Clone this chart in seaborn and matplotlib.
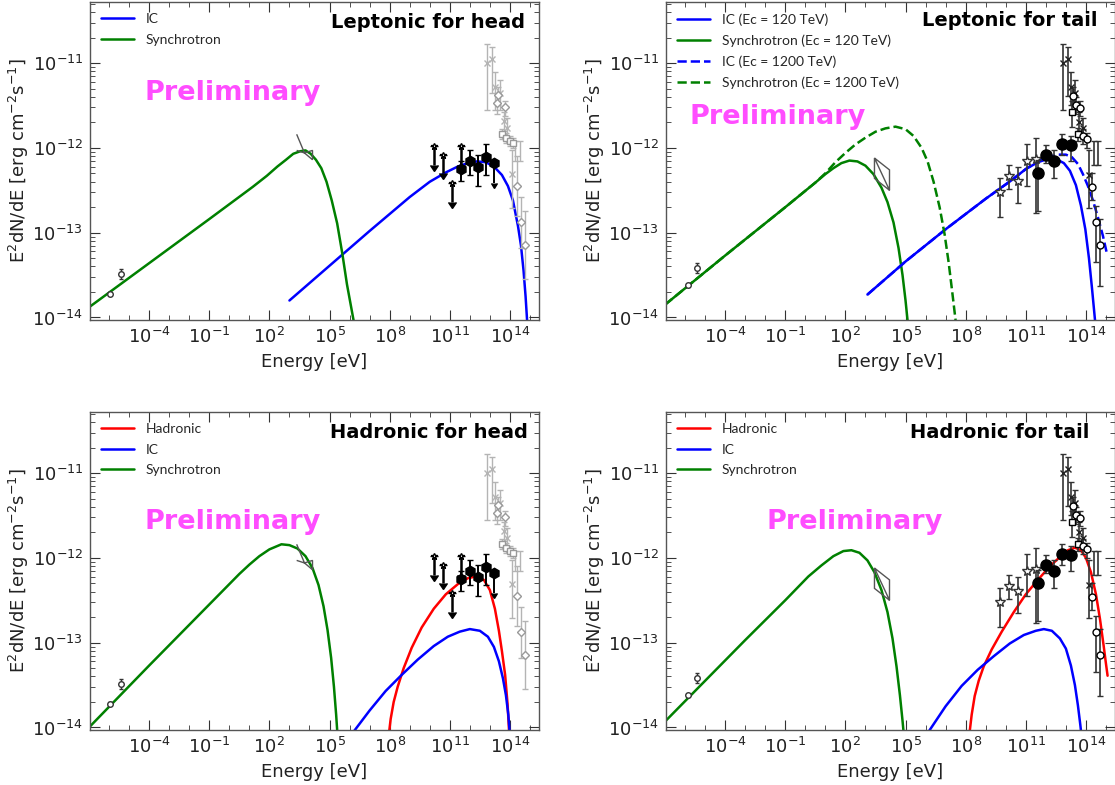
import numpy as np
import matplotlib
matplotlib.use('Agg')
import matplotlib.pyplot as plt
import matplotlib.ticker as mticker
from matplotlib.patches import Polygon
import seaborn as sns

sns.set_theme(context='notebook', style='ticks')
plt.rcParams['font.family'] = ['DejaVu Sans']
plt.rcParams['mathtext.fontset'] = 'dejavusans'

BLUE, GREEN, RED = '#0000ff', '#008000', '#ff0000'
PINK = '#ff4dff'
LIGHT = '#b4b4b4'
DARK = '#222222'

XLIM = (10**-6.95, 10**15.45)
YLIM = (10**-14.03, 10**-10.28)
XTICK_EXP = [-4, -1, 2, 5, 8, 11, 14]
YTICK_EXP = [-14, -13, -12, -11]

# ── model curves  (log10 E[eV], log10 E2dN/dE)
TL_SYN_X = [-7.0, -4.0, -1.0, 1.17, 1.87, 2.40, 2.83, 3.19, 3.54, 3.80, 4.06, 4.32, 4.59, 4.85, 5.11, 5.38, 5.64, 5.87, 6.08, 6.25]
TL_SYN_Y = [-13.88, -13.36, -12.84, -12.46, -12.33, -12.22, -12.14, -12.07, -12.04, -12.03, -12.07, -12.14, -12.24, -12.40, -12.62, -12.89, -13.25, -13.61, -13.88, -14.10]
TL_IC_X = [3.0, 5.0, 7.0, 9.0, 10.0, 10.8, 11.4, 11.9, 12.35, 12.8, 13.2, 13.6, 13.9, 14.15, 14.4, 14.55, 14.68, 14.78, 14.86]
TL_IC_Y = [-13.80, -13.39, -12.98, -12.58, -12.40, -12.29, -12.22, -12.18, -12.16, -12.17, -12.22, -12.32, -12.45, -12.62, -12.92, -13.15, -13.45, -13.75, -14.05]

TR_SYN_X = [-7.0, -4.0, -1.0, 0.5, 1.0, 1.4, 1.8, 2.2, 2.6, 3.0, 3.4, 3.8, 4.1, 4.4, 4.65, 4.85, 5.0, 5.12]
TR_SYN_Y = [-13.85, -13.27, -12.70, -12.41, -12.31, -12.24, -12.18, -12.15, -12.16, -12.21, -12.31, -12.47, -12.64, -12.88, -13.18, -13.50, -13.80, -14.08]
TR_SYN2_X = [-7.0, -4.0, -1.0, 0.5, 1.0, 1.5, 2.0, 2.5, 3.0, 3.5, 4.0, 4.5, 5.0, 5.4, 5.8, 6.1, 6.4, 6.7, 6.95, 7.15, 7.32, 7.47, 7.53]
TR_SYN2_Y = [-13.85, -13.27, -12.70, -12.41, -12.30, -12.17, -12.06, -11.96, -11.88, -11.81, -11.77, -11.75, -11.78, -11.86, -12.00, -12.16, -12.40, -12.70, -13.02, -13.35, -13.68, -13.98, -14.10]
TR_IC_X = [3.1, 5.0, 7.0, 9.0, 10.3, 11.0, 11.6, 12.1, 12.5, 12.9, 13.2, 13.5, 13.75, 13.97, 14.15, 14.3, 14.42, 14.48]
TR_IC_Y = [-13.73, -13.34, -12.96, -12.60, -12.38, -12.25, -12.17, -12.13, -12.13, -12.18, -12.27, -12.44, -12.68, -12.96, -13.30, -13.65, -13.95, -14.10]
TR_IC2_X = [3.1, 5.0, 7.0, 9.0, 10.3, 11.0, 11.6, 12.1, 12.6, 13.0, 13.3, 13.6, 13.85, 14.1, 14.35, 14.6, 14.85, 15.04]
TR_IC2_Y = [-13.73, -13.34, -12.96, -12.60, -12.38, -12.25, -12.16, -12.11, -12.08, -12.08, -12.11, -12.19, -12.31, -12.45, -12.62, -12.82, -13.04, -13.24]

BL_SYN_X = [-7.0, -4.0, -1.0, 0.5, 1.0, 1.5, 2.0, 2.6, 3.0, 3.4, 3.8, 4.15, 4.45, 4.7, 4.9, 5.08, 5.22, 5.33, 5.4]
BL_SYN_Y = [-14.00, -13.27, -12.55, -12.19, -12.08, -11.98, -11.90, -11.84, -11.85, -11.89, -11.98, -12.12, -12.32, -12.57, -12.85, -13.18, -13.52, -13.85, -14.10]
BL_IC_X = [6.2, 7.0, 7.8, 8.6, 9.4, 10.2, 10.9, 11.5, 12.0, 12.5, 12.9, 13.2, 13.45, 13.65, 13.8, 13.92, 14.0]
BL_IC_Y = [-14.05, -13.80, -13.57, -13.38, -13.20, -13.04, -12.93, -12.87, -12.84, -12.86, -12.93, -13.05, -13.22, -13.42, -13.62, -13.85, -14.10]
BL_HAD_X = [7.95, 8.05, 8.2, 8.4, 8.7, 9.1, 9.6, 10.2, 10.8, 11.4, 11.9, 12.3, 12.7, 13.0, 13.25, 13.45, 13.6, 13.76, 13.88, 13.97]
BL_HAD_Y = [-14.10, -13.90, -13.70, -13.52, -13.30, -13.06, -12.82, -12.60, -12.43, -12.31, -12.24, -12.22, -12.26, -12.38, -12.60, -12.86, -13.10, -13.38, -13.72, -14.10]

BR_SYN_X = [-7.0, -5.0, -3.0, -1.0, 0.15, 0.8, 1.4, 1.9, 2.3, 2.7, 3.1, 3.45, 3.8, 4.1, 4.35, 4.55, 4.72, 4.85, 4.92]
BR_SYN_Y = [-13.93, -13.45, -12.97, -12.50, -12.22, -12.09, -11.98, -11.92, -11.91, -11.94, -12.03, -12.17, -12.38, -12.64, -12.95, -13.28, -13.62, -13.92, -14.10]
BR_IC_X = [6.15, 7.0, 7.8, 8.6, 9.4, 10.2, 10.9, 11.5, 11.9, 12.3, 12.7, 13.0, 13.25, 13.45, 13.6, 13.72, 13.78]
BR_IC_Y = [-14.05, -13.75, -13.51, -13.32, -13.16, -13.01, -12.91, -12.86, -12.84, -12.86, -12.95, -13.07, -13.27, -13.50, -13.74, -13.97, -14.10]
BR_HAD_X = [8.2, 8.3, 8.45, 8.65, 8.9, 9.3, 9.8, 10.4, 11.0, 11.6, 12.2, 12.7, 13.1, 13.45, 13.75, 14.0, 14.25, 14.5, 14.7, 14.88, 15.0, 15.08]
BR_HAD_Y = [-14.05, -13.85, -13.63, -13.45, -13.28, -13.08, -12.87, -12.64, -12.43, -12.26, -12.10, -11.99, -11.91, -11.88, -11.91, -12.00, -12.17, -12.43, -12.72, -13.03, -13.25, -13.39]

# ── head data points
HEAD_R_X = [-5.95, -5.40]
HEAD_R_Y = [-13.72, -13.49]
HEAD_R_LO = [-13.74, -13.55]
HEAD_R_HI = [-13.70, -13.43]
HEAD_BOW_X = [3.36, 3.75, 4.15, 4.15, 3.75, 3.36, 3.36]
HEAD_BOW_Y = [-11.84, -12.06, -12.03, -12.14, -12.06, -12.03, -11.84]
HEAD_UL_X = [10.23, 10.67, 11.09, 11.54]
HEAD_UL_Y = [-11.98, -12.09, -12.42, -11.98]
HEAD_UL_END = [-12.20, -12.30, -12.64, -12.20]
HEAD_PT_X = [11.58, 11.99, 12.40, 12.80, 13.22]
HEAD_PT_Y = [-12.25, -12.15, -12.22, -12.11, -12.18]
HEAD_PT_LO = [-12.39, -12.32, -12.45, -12.32, -12.41]
HEAD_PT_HI = [-12.16, -12.03, -12.08, -11.96, -12.18]
HEAD_PT_UL = [False, False, False, False, True]
HEAD_GX_X = [12.87, 13.09, 13.25, 13.50, 13.69, 13.87, 14.10]
HEAD_GX_Y = [-11.00, -10.95, -11.28, -11.35, -11.68, -11.76, -12.31]
HEAD_GX_LO = [-11.55, -11.35, -11.55, -11.55, -11.80, -11.90, -12.71]
HEAD_GX_HI = [-10.77, -10.81, -11.10, -11.20, -11.58, -11.65, -12.02]
HEAD_GD_X = [13.33, 13.38, 13.74, 14.34, 14.56, 14.77]
HEAD_GD_Y = [-11.47, -11.38, -11.52, -12.45, -12.88, -13.15]
HEAD_GD_LO = [-11.60, -11.50, -11.62, -12.80, -13.18, -13.55]
HEAD_GD_HI = [-11.35, -11.28, -11.45, -12.10, -12.58, -12.75]
HEAD_GS_X = [13.58, 13.79, 13.99, 14.13]
HEAD_GS_Y = [-11.84, -11.88, -11.92, -11.94]
HEAD_GS_LO = [-11.90, -11.94, -11.98, -12.00]
HEAD_GS_HI = [-11.78, -11.82, -11.86, -11.88]
HEAD_GB_X = [14.23, 14.48]
HEAD_GB_Y = [-12.04, -12.04]
HEAD_GB_LO = [-12.16, -12.16]
HEAD_GB_HI = [-11.92, -11.92]

# ── tail data points
TAIL_R_X = [-5.85, -5.42]
TAIL_R_Y = [-13.62, -13.42]
TAIL_R_LO = [-13.64, -13.48]
TAIL_R_HI = [-13.60, -13.36]
TAIL_BOW_X = [3.45, 4.2, 4.2, 3.45, 3.45, 4.2]
TAIL_BOW_Y = [-12.12, -12.26, -12.50, -12.36, -12.12, -12.50]
TAIL_S_X = [9.72, 10.18, 10.63, 11.07, 11.52]
TAIL_S_Y = [-12.52, -12.33, -12.39, -12.15, -12.13]
TAIL_S_LO = [-12.81, -12.49, -12.65, -12.45, -12.77]
TAIL_S_HI = [-12.35, -12.20, -12.22, -11.96, -11.88]
TAIL_B_X = [11.60, 12.01, 12.42, 12.83, 13.24]
TAIL_B_Y = [-12.30, -12.08, -12.16, -11.95, -11.97]
TAIL_B_LO = [-12.75, -12.18, -12.35, -12.08, -12.16]
TAIL_B_HI = [-12.14, -11.97, -12.02, -11.84, -11.86]
TAIL_X_X = [12.86, 13.10, 13.24, 13.45, 13.66, 13.87, 14.13]
TAIL_X_Y = [-11.00, -10.95, -11.28, -11.35, -11.69, -11.77, -12.32]
TAIL_X_LO = [-11.55, -11.39, -11.50, -11.55, -11.80, -11.90, -12.71]
TAIL_X_HI = [-10.77, -10.81, -11.10, -11.20, -11.58, -11.65, -12.02]
TAIL_O_X = [13.35, 13.51, 13.71, 13.87, 14.06, 14.30, 14.49, 14.71]
TAIL_O_Y = [-11.39, -11.49, -11.53, -11.86, -11.90, -12.46, -12.88, -13.15]
TAIL_O_LO = [-11.50, -11.60, -11.62, -11.95, -12.00, -12.62, -13.35, -13.63]
TAIL_O_HI = [-11.28, -11.40, -11.45, -11.78, -11.83, -12.30, -12.69, -12.84]
TAIL_SQ_X = [13.32, 13.59]
TAIL_SQ_Y = [-11.58, -11.84]
TAIL_SQ_LO = [-11.75, -11.92]
TAIL_SQ_HI = [-11.45, -11.76]
TAIL_BAR_X = [14.38, 14.59]
TAIL_BAR_Y = [-12.06, -12.06]
TAIL_BAR_LO = [-12.20, -12.20]
TAIL_BAR_HI = [-11.92, -11.92]


def lin(v):
    return 10.0 ** np.asarray(v, dtype=float)


def curve(ax, lx, ly, color, label, ls='-'):
    sns.lineplot(x=lin(lx), y=lin(ly), ax=ax, color=color, lw=1.8, ls=ls,
                 label=label, estimator=None, sort=False)


def errpts(ax, lx, ly, llo, lhi, **kw):
    y = lin(ly)
    ax.errorbar(lin(lx), y, yerr=[y - lin(llo), lin(lhi) - y], **kw)


def bowtie(ax, lx, ly):
    ax.add_patch(Polygon(np.column_stack([lin(lx), lin(ly)]), closed=False,
                         fill=False, ec='#555555', lw=1, zorder=4))


def draw_head(ax):
    errpts(ax, HEAD_R_X, HEAD_R_Y, HEAD_R_LO, HEAD_R_HI, fmt='o', ms=4, mfc='white',
           mec='#333333', ecolor='#333333', elinewidth=1, capsize=1.5, zorder=5)
    bowtie(ax, HEAD_BOW_X, HEAD_BOW_Y)
    # light gray cluster
    gkw = dict(color=LIGHT, ecolor=LIGHT, elinewidth=1, capsize=2, zorder=3)
    errpts(ax, HEAD_GX_X, HEAD_GX_Y, HEAD_GX_LO, HEAD_GX_HI, fmt='x', ms=4, **gkw)
    errpts(ax, HEAD_GD_X, HEAD_GD_Y, HEAD_GD_LO, HEAD_GD_HI, fmt='D', ms=4.5, mfc='white', mec='#999999', **gkw)
    errpts(ax, HEAD_GS_X, HEAD_GS_Y, HEAD_GS_LO, HEAD_GS_HI, fmt='s', ms=4, mfc='white', mec='#999999', **gkw)
    errpts(ax, HEAD_GB_X, HEAD_GB_Y, HEAD_GB_LO, HEAD_GB_HI, fmt='none', **gkw)
    # black upper limits and points
    y = lin(HEAD_UL_Y)
    ax.errorbar(lin(HEAD_UL_X), y, yerr=[y - lin(HEAD_UL_END), np.zeros_like(y)], uplims=True,
                fmt='*', ms=5, color='black', mfc='white', elinewidth=1.8, capsize=3, zorder=6)
    y = lin(HEAD_PT_Y)
    ax.errorbar(lin(HEAD_PT_X), y, yerr=[y - lin(HEAD_PT_LO), lin(HEAD_PT_HI) - y],
                uplims=np.array(HEAD_PT_UL), fmt='h', ms=7.5, color='black',
                elinewidth=1.4, capsize=2.5, zorder=6)


def draw_tail(ax):
    errpts(ax, TAIL_R_X, TAIL_R_Y, TAIL_R_LO, TAIL_R_HI, fmt='o', ms=4, mfc='white',
           mec='#333333', ecolor='#333333', elinewidth=1, capsize=1.5, zorder=5)
    bowtie(ax, TAIL_BOW_X, TAIL_BOW_Y)
    dkw = dict(color=DARK, ecolor='#333333', elinewidth=1.2, capsize=2, zorder=5)
    errpts(ax, TAIL_X_X, TAIL_X_Y, TAIL_X_LO, TAIL_X_HI, fmt='x', ms=4, **dkw)
    errpts(ax, TAIL_BAR_X, TAIL_BAR_Y, TAIL_BAR_LO, TAIL_BAR_HI, fmt='none', **dkw)
    errpts(ax, TAIL_SQ_X, TAIL_SQ_Y, TAIL_SQ_LO, TAIL_SQ_HI, fmt='s', ms=5, mfc='white', mec='black', **dkw)
    errpts(ax, TAIL_O_X, TAIL_O_Y, TAIL_O_LO, TAIL_O_HI, fmt='o', ms=5, mfc='white', mec='black', **dkw)
    errpts(ax, TAIL_S_X, TAIL_S_Y, TAIL_S_LO, TAIL_S_HI, fmt='*', ms=7, mfc='white', mec='#333333', **dkw)
    errpts(ax, TAIL_B_X, TAIL_B_Y, TAIL_B_LO, TAIL_B_HI, fmt='o', ms=8, color='black',
           ecolor='#333333', elinewidth=1.2, capsize=2, zorder=6)


def setup(ax, title, tx, ty, px, py, order):
    ax.set_xscale('log'); ax.set_yscale('log')
    ax.set_xlim(*XLIM); ax.set_ylim(*YLIM)
    ax.set_xticks(lin(XTICK_EXP))
    ax.set_xticks(lin(np.arange(-6, 16)), minor=True)
    ax.set_yticks(lin(YTICK_EXP))
    ax.xaxis.set_minor_formatter(mticker.NullFormatter())
    ax.yaxis.set_minor_formatter(mticker.NullFormatter())
    ax.tick_params(which='both', direction='in', top=True, right=True, labelsize=13,
                   colors='#333333', labelcolor='#222222')
    ax.tick_params(which='major', length=7, width=0.8, pad=5)
    ax.tick_params(which='minor', length=3.5, width=0.6)
    for sp in ax.spines.values():
        sp.set_color('#555555'); sp.set_linewidth(1.0)
    ax.set_xlabel('Energy [eV]', fontsize=13, color='#222222')
    ax.set_ylabel('E$^2$dN/dE [erg cm$^{-2}$s$^{-1}$]', fontsize=13, color='#222222', labelpad=1)
    ax.text(tx, ty, title, transform=ax.transAxes, ha='right', va='center',
            fontsize=14, fontweight='bold', color='black')
    ax.text(px, py, 'Preliminary', transform=ax.transAxes, ha='center', va='center',
            fontsize=19.5, fontweight='bold', color=PINK)
    handles, labels = ax.get_legend_handles_labels()
    hmap = dict(zip(labels, handles))
    ax.legend([hmap[k] for k in order], order, loc='upper left', bbox_to_anchor=(0, 1),
              frameon=False, handlelength=2.4, handletextpad=0.8,
              labelspacing=0.62, borderaxespad=0.4, borderpad=0.4,
              prop={'family': 'Lato', 'size': 10})


fig = plt.figure(figsize=(11.15, 7.85), dpi=100)
W, H = 449 / 1115, 318 / 785
ax_tl = fig.add_axes([90 / 1115, 465 / 785, W, H])
ax_tr = fig.add_axes([666 / 1115, 465 / 785, W, H])
ax_bl = fig.add_axes([90 / 1115, 55 / 785, W, H])
ax_br = fig.add_axes([666 / 1115, 55 / 785, W, H])

# Leptonic for head
curve(ax_tl, TL_IC_X, TL_IC_Y, BLUE, 'IC')
curve(ax_tl, TL_SYN_X, TL_SYN_Y, GREEN, 'Synchrotron')
draw_head(ax_tl)
setup(ax_tl, 'Leptonic for head', 0.969, 0.937, 0.318, 0.714, ['IC', 'Synchrotron'])

# Leptonic for tail
curve(ax_tr, TR_IC_X, TR_IC_Y, BLUE, 'IC (Ec = 120 TeV)')
curve(ax_tr, TR_SYN_X, TR_SYN_Y, GREEN, 'Synchrotron (Ec = 120 TeV)')
curve(ax_tr, TR_IC2_X, TR_IC2_Y, BLUE, 'IC (Ec = 1200 TeV)', ls='--')
curve(ax_tr, TR_SYN2_X, TR_SYN2_Y, GREEN, 'Synchrotron (Ec = 1200 TeV)', ls='--')
draw_tail(ax_tr)
setup(ax_tr, 'Leptonic for tail', 0.962, 0.943, 0.249, 0.638,
      ['IC (Ec = 120 TeV)', 'Synchrotron (Ec = 120 TeV)', 'IC (Ec = 1200 TeV)', 'Synchrotron (Ec = 1200 TeV)'])

# Hadronic for head
curve(ax_bl, BL_HAD_X, BL_HAD_Y, RED, 'Hadronic')
curve(ax_bl, BL_IC_X, BL_IC_Y, BLUE, 'IC')
curve(ax_bl, BL_SYN_X, BL_SYN_Y, GREEN, 'Synchrotron')
draw_head(ax_bl)
setup(ax_bl, 'Hadronic for head', 0.975, 0.934, 0.318, 0.654, ['Hadronic', 'IC', 'Synchrotron'])

# Hadronic for tail
curve(ax_br, BR_HAD_X, BR_HAD_Y, RED, 'Hadronic')
curve(ax_br, BR_IC_X, BR_IC_Y, BLUE, 'IC')
curve(ax_br, BR_SYN_X, BR_SYN_Y, GREEN, 'Synchrotron')
draw_tail(ax_br)
setup(ax_br, 'Hadronic for tail', 0.944, 0.937, 0.421, 0.654, ['Hadronic', 'IC', 'Synchrotron'])

fig.savefig('out.png', dpi=100)
